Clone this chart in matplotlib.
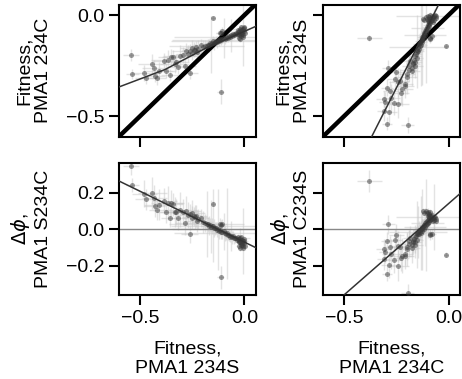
import numpy as np
import matplotlib.pyplot as plt

plt.rcParams['font.family'] = ['Liberation Sans', 'DejaVu Sans']
plt.rcParams['font.size'] = 14

# fitness of each mutant in the 234S and 234C backgrounds, with errors
fit_s = [
    # dense cluster near wild type
    -0.030, -0.025, -0.020, -0.015, -0.010, -0.005, -0.028, -0.018, -0.012, -0.002,
    0.000, -0.035, -0.022, -0.008, -0.015, -0.025, 0.003, -0.032, -0.006, -0.040,
    -0.017, -0.011, -0.027, -0.003, -0.020,
    # main chain
    -0.045, -0.050, -0.055, -0.060, -0.065, -0.070, -0.075, -0.080, -0.085, -0.090,
    -0.095, -0.100, -0.105, -0.110, -0.115, -0.120, -0.125, -0.130, -0.135, -0.140,
    -0.145, -0.150, -0.155, -0.160, -0.165, -0.170, -0.175, -0.180, -0.190, -0.200,
    -0.210, -0.220, -0.230, -0.240, -0.250, -0.260,
    # deleterious tail
    -0.543, -0.536, -0.480, -0.473, -0.440, -0.432, -0.429, -0.416, -0.410, -0.384,
    -0.375, -0.367, -0.358, -0.352, -0.342, -0.333, -0.326, -0.317, -0.308, -0.293,
    -0.282, -0.278, -0.269, -0.262, -0.251, -0.238, -0.228,
    # outliers
    -0.151, -0.114, -0.114, -0.118, -0.105,
]
fit_c = [
    -0.085, -0.080, -0.090, -0.075, -0.095, -0.070, -0.100, -0.105, -0.085, -0.080,
    -0.065, -0.095, -0.070, -0.110, -0.060, -0.115, -0.090, -0.075, -0.100, -0.090,
    -0.095, -0.072, -0.092, -0.058, -0.120,
    -0.095, -0.100, -0.092, -0.105, -0.100, -0.110, -0.105, -0.112, -0.108, -0.115,
    -0.118, -0.112, -0.120, -0.125, -0.118, -0.128, -0.125, -0.132, -0.128, -0.135,
    -0.140, -0.130, -0.138, -0.145, -0.140, -0.150, -0.148, -0.152, -0.155, -0.160,
    -0.150, -0.165, -0.158, -0.170, -0.162, -0.175,
    -0.195, -0.293, -0.285, -0.310, -0.241, -0.262, -0.302, -0.310, -0.275, -0.228,
    -0.278, -0.222, -0.294, -0.207, -0.206, -0.240, -0.230, -0.258, -0.200, -0.198,
    -0.250, -0.176, -0.190, -0.288, -0.187, -0.172, -0.182,
    -0.012, -0.378, -0.089, -0.087, -0.079,
]
err_s = [
    0.010, 0.012, 0.015, 0.010, 0.012, 0.020, 0.010, 0.015, 0.010, 0.012,
    0.010, 0.015, 0.050, 0.012, 0.010, 0.015, 0.010, 0.012, 0.010, 0.015,
    0.010, 0.012, 0.010, 0.015, 0.012,
    0.020, 0.025, 0.020, 0.030, 0.020, 0.025, 0.030, 0.020, 0.250, 0.025,
    0.030, 0.020, 0.035, 0.030, 0.020, 0.040, 0.220, 0.030, 0.025, 0.030,
    0.040, 0.200, 0.030, 0.035, 0.030, 0.040, 0.030, 0.180, 0.040, 0.050,
    0.040, 0.035, 0.050, 0.040, 0.060, 0.045,
    0.040, 0.030, 0.060, 0.050, 0.070, 0.060, 0.050, 0.040, 0.070, 0.060,
    0.050, 0.080, 0.040, 0.060, 0.050, 0.070, 0.060, 0.050, 0.080, 0.060,
    0.050, 0.070, 0.060, 0.040, 0.050, 0.060, 0.050,
    0.010, 0.015, 0.020, 0.020, 0.020,
]
err_c = [
    0.010, 0.012, 0.010, 0.015, 0.012, 0.180, 0.010, 0.012, 0.015, 0.010,
    0.012, 0.010, 0.015, 0.010, 0.012, 0.010, 0.015, 0.010, 0.012, 0.010,
    0.012, 0.010, 0.015, 0.010, 0.012,
    0.015, 0.020, 0.015, 0.020, 0.080, 0.020, 0.015, 0.020, 0.020, 0.020,
    0.025, 0.100, 0.020, 0.025, 0.020, 0.025, 0.020, 0.030, 0.025, 0.020,
    0.030, 0.025, 0.030, 0.140, 0.025, 0.030, 0.030, 0.025, 0.030, 0.035,
    0.030, 0.040, 0.030, 0.035, 0.040, 0.030,
    0.030, 0.025, 0.040, 0.030, 0.050, 0.040, 0.030, 0.035, 0.045, 0.040,
    0.035, 0.050, 0.030, 0.040, 0.035, 0.045, 0.040, 0.035, 0.050, 0.040,
    0.035, 0.040, 0.040, 0.030, 0.035, 0.030, 0.035,
    0.010, 0.060, 0.015, 0.020, 0.020,
]

# fitted trend lines
tl_fit_x = [-0.60, -0.38, -0.19, 0.06]
tl_fit_y = [-0.355, -0.269, -0.166, -0.053]
tr_fit_x = [-0.40, -0.03]
tr_fit_y = [-0.667, 0.087]
bl_fit_x = [-0.60, 0.06]
bl_fit_y = [0.264, -0.104]
br_fit_x = [-0.60, 0.06]
br_fit_y = [-0.46, 0.20]

fit_s = np.array(fit_s)
fit_c = np.array(fit_c)
err_s = np.array(err_s)
err_c = np.array(err_c)
err_d = np.sqrt(err_s ** 2 + err_c ** 2)

fig, axes = plt.subplots(2, 2, figsize=(4.62, 3.79), dpi=100)
fig.subplots_adjust(left=119 / 462, right=460 / 462, top=1 - 5 / 379,
                    bottom=1 - 295 / 379, wspace=0.49, hspace=0.205)

panels = [
    (axes[0, 0], fit_s, fit_c, err_s, err_c, tl_fit_x, tl_fit_y),
    (axes[0, 1], fit_c, fit_s, err_c, err_s, tr_fit_x, tr_fit_y),
    (axes[1, 0], fit_s, fit_c - fit_s, err_s, err_d, bl_fit_x, bl_fit_y),
    (axes[1, 1], fit_c, fit_s - fit_c, err_c, err_d, br_fit_x, br_fit_y),
]

for i, (ax, x, y, ex, ey, lx, ly) in enumerate(panels):
    ax.errorbar(x, y, xerr=ex, yerr=ey, fmt='none', ecolor='#c8c8c8',
                elinewidth=1, alpha=0.5, zorder=1)
    if i < 2:
        ax.plot([-1, 1], [-1, 1], color='k', lw=3.2, zorder=2)
    else:
        ax.axhline(0, color='#888888', lw=1, zorder=2)
    ax.plot(x, y, 'o', color='#3a3a3a', ms=3.6, alpha=0.5, mec='none', zorder=3)
    ax.plot(lx, ly, color='#333333', lw=1.1, zorder=4)

    ax.set_xlim(-0.6, 0.055)
    ax.set_xticks([-0.5, 0.0])
    if i < 2:
        ax.set_ylim(-0.6, 0.05)
        ax.set_yticks([-0.5, 0.0])
    else:
        ax.set_ylim(-0.36, 0.36)
        ax.set_yticks([-0.2, 0.0, 0.2])
    ax.tick_params(length=7, width=1.5, labelsize=14)
    for sp in ax.spines.values():
        sp.set_linewidth(1.5)
    if i < 2:
        ax.tick_params(labelbottom=False)
    if i % 2 == 1:
        ax.tick_params(labelleft=False)

axes[0, 0].set_ylabel('Fitness,\nPMA1 234C', labelpad=10)
axes[0, 1].set_ylabel('Fitness,\nPMA1 234S', labelpad=1.5)
axes[1, 0].set_ylabel('$\\Delta\\phi$,\nPMA1 S234C', labelpad=10)
axes[1, 1].set_ylabel('$\\Delta\\phi$,\nPMA1 C234S', labelpad=1.5)
axes[1, 0].set_xlabel('Fitness,\nPMA1 234S', labelpad=10)
axes[1, 1].set_xlabel('Fitness,\nPMA1 234C', labelpad=10)

fig.savefig('out.png', dpi=100)
